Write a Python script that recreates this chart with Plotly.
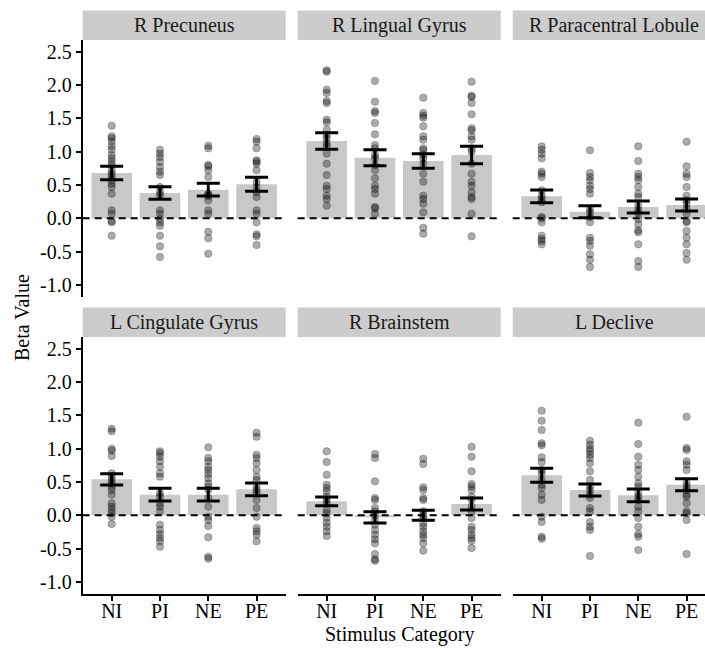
import plotly.graph_objects as go

categories = ["NI", "PI", "NE", "PE"]
regions = ["R Precuneus", "R Lingual Gyrus", "R Paracentral Lobule",
           "L Cingulate Gyrus", "R Brainstem", "L Declive"]

y_tick_vals = [-1.0, -0.5, 0.0, 0.5, 1.0, 1.5, 2.0, 2.5]
y_tick_text = ["-1.0", "-0.5", "0.0", "0.5", "1.0", "1.5", "2.0", "2.5"]

# mean beta per region, per category (NI, PI, NE, PE)
means_precuneus = [0.68, 0.38, 0.43, 0.51]
means_lingual = [1.16, 0.91, 0.86, 0.95]
means_paracentral = [0.33, 0.10, 0.17, 0.20]
means_cingulate = [0.54, 0.31, 0.31, 0.39]
means_brainstem = [0.21, -0.03, 0.00, 0.17]
means_declive = [0.60, 0.38, 0.30, 0.46]

# standard errors
se_precuneus = [0.10, 0.095, 0.095, 0.105]
se_lingual = [0.125, 0.12, 0.11, 0.13]
se_paracentral = [0.095, 0.09, 0.09, 0.09]
se_cingulate = [0.085, 0.095, 0.095, 0.095]
se_brainstem = [0.065, 0.085, 0.075, 0.09]
se_declive = [0.105, 0.09, 0.095, 0.09]

# individual subject betas (NI, PI, NE, PE)
pts_precuneus = [
    [1.39, 1.23, 1.20, 1.15, 1.08, 1.03, 0.95, 0.90, 0.85, 0.80, 0.72, 0.67, 0.62, 0.57, 0.52, 0.47, 0.37, 0.12, 0.07, -0.04, -0.06, -0.26],
    [1.03, 0.97, 0.92, 0.85, 0.77, 0.70, 0.65, 0.47, 0.39, 0.35, 0.12, 0.07, -0.01, -0.06, -0.11, -0.26, -0.42, -0.58],
    [1.09, 1.05, 0.80, 0.78, 0.72, 0.62, 0.37, 0.35, 0.33, 0.27, 0.12, 0.07, -0.20, -0.30, -0.53],
    [1.19, 1.15, 1.05, 0.87, 0.85, 0.82, 0.72, 0.55, 0.47, 0.39, 0.32, 0.12, 0.07, -0.06, -0.24, -0.27, -0.40],
]
pts_lingual = [
    [2.22, 2.20, 1.93, 1.88, 1.76, 1.73, 1.48, 1.44, 1.33, 1.25, 1.20, 1.13, 1.08, 0.97, 0.82, 0.65, 0.49, 0.44, 0.34, 0.29, 0.19],
    [2.06, 1.75, 1.61, 1.58, 1.43, 1.26, 1.10, 1.05, 0.95, 0.90, 0.80, 0.72, 0.60, 0.49, 0.44, 0.37, 0.17, 0.15, 0.07],
    [1.81, 1.58, 1.54, 1.51, 1.38, 1.23, 1.18, 1.05, 1.02, 0.95, 0.90, 0.82, 0.67, 0.55, 0.34, 0.29, 0.22, 0.09, -0.14, -0.23],
    [2.05, 1.84, 1.82, 1.73, 1.56, 1.35, 1.32, 1.23, 1.18, 1.05, 1.00, 0.82, 0.67, 0.55, 0.49, 0.39, 0.32, 0.29, 0.07, -0.27],
]
pts_paracentral = [
    [1.08, 1.03, 0.97, 0.90, 0.70, 0.67, 0.62, 0.42, 0.34, 0.29, 0.24, 0.02, 0.00, -0.06, -0.26, -0.31, -0.34, -0.39],
    [1.02, 0.68, 0.62, 0.57, 0.49, 0.44, 0.37, 0.14, 0.09, 0.02, -0.06, -0.29, -0.34, -0.41, -0.54, -0.62, -0.73],
    [1.08, 0.86, 0.67, 0.62, 0.57, 0.47, 0.37, 0.32, 0.19, 0.12, 0.08, -0.01, -0.09, -0.18, -0.21, -0.39, -0.64, -0.73],
    [1.15, 0.78, 0.67, 0.62, 0.47, 0.34, 0.27, 0.22, 0.14, 0.07, -0.04, -0.06, -0.19, -0.29, -0.39, -0.52, -0.62],
]
pts_cingulate = [
    [1.30, 1.26, 1.00, 0.97, 0.89, 0.63, 0.58, 0.53, 0.48, 0.43, 0.38, 0.31, 0.18, 0.13, 0.08, 0.03, -0.02, -0.13],
    [0.96, 0.93, 0.88, 0.81, 0.73, 0.63, 0.58, 0.33, 0.28, 0.18, 0.13, 0.06, -0.14, -0.22, -0.28, -0.34, -0.39, -0.47],
    [1.02, 0.86, 0.81, 0.73, 0.68, 0.62, 0.56, 0.48, 0.43, 0.38, 0.26, 0.13, -0.02, -0.07, -0.16, -0.33, -0.62, -0.65],
    [1.24, 1.18, 0.91, 0.86, 0.78, 0.68, 0.58, 0.53, 0.43, 0.38, 0.33, 0.23, 0.11, -0.02, -0.19, -0.24, -0.29, -0.39],
]
pts_brainstem = [
    [0.96, 0.80, 0.61, 0.46, 0.41, 0.36, 0.28, 0.23, 0.18, 0.08, 0.03, -0.04, -0.11, -0.17, -0.24, -0.31],
    [0.92, 0.86, 0.51, 0.26, 0.23, 0.11, 0.06, 0.00, -0.07, -0.14, -0.22, -0.29, -0.36, -0.42, -0.58, -0.66, -0.68],
    [0.85, 0.77, 0.42, 0.38, 0.26, 0.23, 0.06, 0.00, -0.04, -0.12, -0.17, -0.24, -0.29, -0.34, -0.42, -0.53],
    [1.03, 0.88, 0.66, 0.47, 0.43, 0.38, 0.28, 0.23, 0.13, 0.06, -0.04, -0.17, -0.22, -0.29, -0.34, -0.38, -0.49],
]
pts_declive = [
    [1.57, 1.42, 1.28, 1.08, 1.05, 0.87, 0.80, 0.68, 0.63, 0.53, 0.46, 0.41, 0.31, 0.23, -0.02, -0.10, -0.32, -0.35],
    [1.12, 1.06, 1.00, 0.96, 0.91, 0.86, 0.78, 0.66, 0.53, 0.43, 0.38, 0.31, 0.26, 0.11, 0.06, -0.10, -0.17, -0.22, -0.61],
    [1.39, 1.07, 0.88, 0.76, 0.68, 0.58, 0.48, 0.43, 0.33, 0.28, 0.23, 0.13, 0.06, -0.04, -0.17, -0.28, -0.32, -0.52],
    [1.48, 1.01, 0.98, 0.81, 0.76, 0.68, 0.48, 0.43, 0.38, 0.31, 0.28, 0.18, 0.06, 0.03, -0.07, -0.58],
]

all_means = [means_precuneus, means_lingual, means_paracentral,
             means_cingulate, means_brainstem, means_declive]
all_se = [se_precuneus, se_lingual, se_paracentral,
          se_cingulate, se_brainstem, se_declive]
all_pts = [pts_precuneus, pts_lingual, pts_paracentral,
           pts_cingulate, pts_brainstem, pts_declive]

W, H = 705, 649
FONT = "Liberation Serif"
px_per_unit = 48.3
col_starts = [82.7, 297.7, 512.7]
panel_w = 203.0
row_tops = [40.0, 337.0]
panel_h = 256.7
strip_h = 29.5
y_range = [-1.175, 2.675]

fig = go.Figure()
layout = dict(
    width=W, height=H, autosize=False,
    margin=dict(l=0, r=0, t=0, b=0, pad=0),
    paper_bgcolor="white", plot_bgcolor="white",
    showlegend=False,
    font=dict(family=FONT, size=19, color="black"),
    shapes=[], annotations=[],
)

for i, region in enumerate(regions):
    row, col = divmod(i, 3)
    n = i + 1
    xa = "x" if n == 1 else f"x{n}"
    ya = "y" if n == 1 else f"y{n}"
    x0 = col_starts[col]
    x1 = min(x0 + panel_w, W)
    x_hi = -0.6 + (x1 - x0) / px_per_unit
    top = row_tops[row]
    bot = top + panel_h

    fig.add_trace(go.Bar(
        x=categories, y=all_means[i], xaxis=xa, yaxis=ya,
        width=0.84, marker=dict(color="#c8c8c8", line=dict(width=0)),
        hoverinfo="skip"))

    for c, cat in enumerate(categories):
        vals = all_pts[i][c]
        fig.add_trace(go.Scatter(
            x=[cat] * len(vals), y=vals, xaxis=xa, yaxis=ya, mode="markers",
            marker=dict(size=7.5, color="rgba(0,0,0,0.33)",
                        line=dict(width=0.8, color="rgba(0,0,0,0.25)")),
            hoverinfo="skip"))

    fig.add_trace(go.Scatter(
        x=categories, y=all_means[i], xaxis=xa, yaxis=ya, mode="markers",
        marker=dict(size=1, color="rgba(0,0,0,0)"),
        error_y=dict(type="data", array=all_se[i], visible=True,
                     color="black", thickness=3, width=11.5),
        hoverinfo="skip"))

    bottom_row = row == 1
    left_col = col == 0
    layout["xaxis" if n == 1 else f"xaxis{n}"] = dict(
        domain=[x0 / W, x1 / W], anchor=ya,
        type="category", categoryorder="array", categoryarray=categories,
        range=[-0.6, x_hi],
        showgrid=False, zeroline=False,
        showline=bottom_row, linecolor="black", linewidth=2,
        ticks="outside" if bottom_row else "", ticklen=5, tickwidth=2, tickcolor="black",
        showticklabels=bottom_row, ticklabelstandoff=-7,
        tickfont=dict(family=FONT, size=20, color="black"),
    )
    layout["yaxis" if n == 1 else f"yaxis{n}"] = dict(
        domain=[1 - bot / H, 1 - top / H], anchor=xa,
        range=y_range,
        tickvals=y_tick_vals, ticktext=y_tick_text,
        showgrid=False, zeroline=False,
        showline=left_col, linecolor="black", linewidth=2,
        ticks="outside" if left_col else "", ticklen=5, tickwidth=2, tickcolor="black",
        showticklabels=left_col,
        tickfont=dict(family=FONT, size=20, color="black"),
    )

    # dashed zero reference
    layout["shapes"].append(dict(
        type="line", xref=f"{xa} domain", yref=ya, x0=0, x1=1, y0=0, y1=0,
        line=dict(color="black", width=2, dash="7px,5px"), layer="above"))
    # facet strip
    layout["shapes"].append(dict(
        type="rect", xref="paper", yref="paper",
        x0=x0 / W, x1=(x0 + panel_w) / W,
        y0=1 - top / H, y1=1 - (top - strip_h) / H,
        fillcolor="#cccccc", line=dict(width=0), layer="below"))
    layout["annotations"].append(dict(
        text=region, xref="paper", yref="paper",
        x=(x0 + panel_w / 2) / W, y=1 - (top - strip_h / 2) / H,
        xanchor="center", yanchor="middle", showarrow=False,
        font=dict(family=FONT, size=20, color="#1a1a1a")))

layout["annotations"].append(dict(
    text="Beta Value", xref="paper", yref="paper",
    x=22 / W, y=1 - 318 / H, textangle=-90,
    xanchor="center", yanchor="middle", showarrow=False,
    font=dict(family=FONT, size=20, color="black")))
layout["annotations"].append(dict(
    text="Stimulus Category", xref="paper", yref="paper",
    x=399 / W, y=1 - 634 / H,
    xanchor="center", yanchor="middle", showarrow=False,
    font=dict(family=FONT, size=20, color="black")))

fig.update_layout(**layout)
fig.write_html("out.html",
               config={"displayModeBar": False},
               post_script="document.body.style.margin='0px';document.body.style.padding='0px';")
